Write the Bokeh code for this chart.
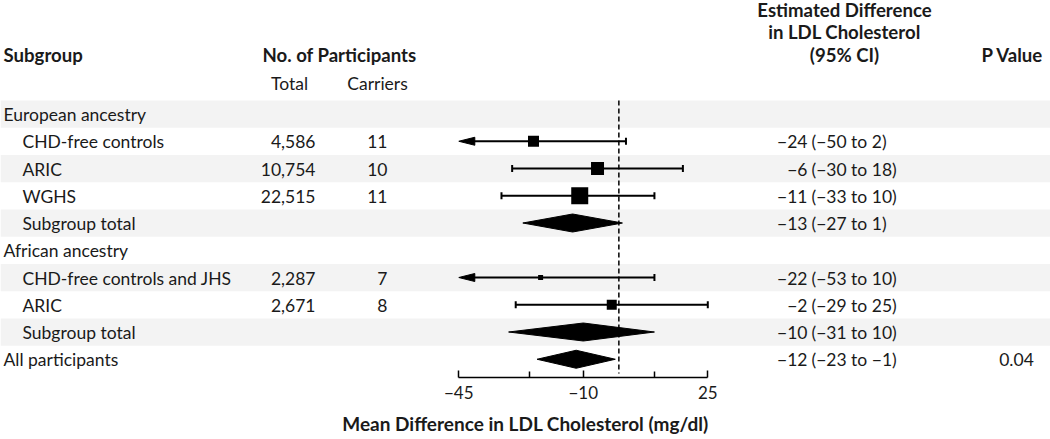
from bokeh.plotting import figure
from bokeh.models import Range1d, LinearAxis, FixedTicker
from bokeh.core.properties import value
from bokeh.embed import file_html
from bokeh.resources import INLINE

# ---------------- data ----------------
row_labels = ["European ancestry", "CHD-free controls", "ARIC", "WGHS", "Subgroup total",
              "African ancestry", "CHD-free controls and JHS", "ARIC", "Subgroup total",
              "All participants"]
row_indent = [0, 1, 1, 1, 1, 0, 1, 1, 1, 0]

study_rows = [1, 2, 3, 6, 7]
study_total = [4586, 10754, 22515, 2287, 2671]
study_carriers = [11, 10, 11, 7, 8]
study_est = [-24, -6, -11, -22, -2]
study_lo = [-50, -30, -33, -53, -29]
study_hi = [2, 18, 10, 10, 25]

pooled_rows = [4, 8, 9]
pooled_est = [-13, -10, -12]
pooled_lo = [-27, -31, -23]
pooled_hi = [1, 10, -1]

p_value_row = 9
p_value_text = "0.04"

axis_min, axis_max = -45, 25
axis_ticks = [-45, -10, 25]
axis_minor = [-25, 10]
axis_tick_labels = ["\u221245", "\u221210", "25"]
axis_title = "Mean Difference in LDL Cholesterol (mg/dl)"
null_value = 0

# ---------------- style ----------------
square_px = [11, 13, 17, 5, 10]
FONT = "Lato"
FS = "17.5px"
FSB = "18.6px"
TXT = "#1a1a1a"
BAND = "#f3f3f3"

# geometry helpers (reference pixel -> data units)
PX_PER_UNIT = 3.557
X_REF0 = 458.3      # pixel of axis_min
ROW_Y0 = 113.5      # pixel of row 0 centre
ROW_H = 27.25
AXIS_Y = 373
FRAME_BOTTOM = 377


def xd(px):
    return axis_min + (px - X_REF0) / PX_PER_UNIT


def yd(py):
    return (py - ROW_Y0) / ROW_H


def fmt(v):
    return str(v).replace("-", "\u2212")


W, H = 1050, 439
p = figure(width=W, height=H, output_backend="svg", toolbar_location=None,
           title_location=None,
           x_axis_type=None, y_axis_type=None,
           x_range=Range1d(xd(0), xd(W)), y_range=Range1d(yd(FRAME_BOTTOM), yd(0)),
           min_border_left=0, min_border_right=0, min_border_top=0,
           min_border_bottom=H - FRAME_BOTTOM)
p.outline_line_color = None
p.background_fill_color = "white"
p.border_fill_color = "white"

# alternating bands
band_rows = [i for i in range(len(row_labels)) if i % 2 == 0]
p.hbar(y=band_rows, height=1.0, left=xd(0), right=xd(W), color=BAND, line_color=None)

# null line
p.segment(x0=[null_value], x1=[null_value], y0=[-0.5], y1=[yd(AXIS_Y)],
          line_color="black", line_width=1.5, line_dash="5 3")

# study CIs
cap = 3.5 / ROW_H
seg_x0, seg_x1, seg_y = [], [], []
cap_x, cap_y0, cap_y1 = [], [], []
arr_xs, arr_ys = [], []
ah_len = 16 / PX_PER_UNIT
ah_w = 4 / ROW_H
for r, lo, hi in zip(study_rows, study_lo, study_hi):
    if lo < axis_min:
        arr_xs.append([axis_min, axis_min + ah_len, axis_min + ah_len])
        arr_ys.append([r, r - ah_w, r + ah_w])
        seg_x0.append(axis_min + ah_len * 0.8)
    else:
        seg_x0.append(lo)
        cap_x.append(lo); cap_y0.append(r - cap); cap_y1.append(r + cap)
    if hi > axis_max:
        arr_xs.append([axis_max, axis_max - ah_len, axis_max - ah_len])
        arr_ys.append([r, r - ah_w, r + ah_w])
        seg_x1.append(axis_max - ah_len * 0.8)
    else:
        seg_x1.append(hi)
        cap_x.append(hi); cap_y0.append(r - cap); cap_y1.append(r + cap)
    seg_y.append(r)

p.segment(x0=seg_x0, x1=seg_x1, y0=seg_y, y1=seg_y, line_color="black", line_width=2)
p.segment(x0=cap_x, x1=cap_x, y0=cap_y0, y1=cap_y1, line_color="black", line_width=2)
if arr_xs:
    p.patches(xs=arr_xs, ys=arr_ys, fill_color="black", line_color="black", line_width=1)
p.scatter(x=study_est, y=study_rows, size=square_px, marker="square",
          fill_color="black", line_color=None)

# pooled diamonds
dh = 9 / ROW_H
dx, dy = [], []
for r, e, lo, hi in zip(pooled_rows, pooled_est, pooled_lo, pooled_hi):
    dx.append([lo, e, hi, e])
    dy.append([r, r - dh, r, r + dh])
p.patches(xs=dx, ys=dy, fill_color="black", line_color="black", line_width=1)

# ---------------- texts ----------------
mid = 0.5 / ROW_H   # text middle offset below row centre


def txt(x, y, t, align="left", bold=False):
    p.text(x=x, y=y, text=t, text_font=value(FONT), text_font_size=FSB if bold else FS,
           text_font_style="bold" if bold else "normal", text_color=TXT,
           text_align=align, text_baseline="middle")


rows = list(range(len(row_labels)))
txt([xd(3) if ind == 0 else xd(22) for ind in row_indent], [r + mid for r in rows], row_labels)
txt([xd(315)] * len(study_rows), [r + mid for r in study_rows],
    [f"{n:,}" for n in study_total], align="right")
txt([xd(387)] * len(study_rows), [r + mid for r in study_rows],
    [str(n) for n in study_carriers], align="right")

ci_rows = study_rows + pooled_rows
ci_est = study_est + pooled_est
ci_lo = study_lo + pooled_lo
ci_hi = study_hi + pooled_hi
txt([xd(807)] * len(ci_rows), [r + mid for r in ci_rows], [fmt(e) for e in ci_est], align="right")
txt([xd(811)] * len(ci_rows), [r + mid for r in ci_rows],
    [f"({fmt(lo)} to {fmt(hi)})" for lo, hi in zip(ci_lo, ci_hi)])
txt([xd(1016)], [p_value_row + mid], [p_value_text], align="center")

# headers
txt([xd(3)], [yd(54)], ["Subgroup"], bold=True)
txt([xd(339)], [yd(54)], ["No. of Participants"], align="center", bold=True)
txt([xd(289), xd(377)], [yd(83), yd(83)], ["Total", "Carriers"], align="center")
txt([xd(844)] * 3, [yd(9), yd(31.5), yd(54.5)],
    ["Estimated Difference", "in LDL Cholesterol", "(95% CI)"], align="center", bold=True)
txt([xd(1012)], [yd(54.5)], ["P Value"], align="center", bold=True)

# ---------------- axis ----------------
ax = LinearAxis(bounds=(axis_min, axis_max),
                ticker=FixedTicker(ticks=axis_ticks, minor_ticks=axis_minor))
ax.major_label_overrides = {t: l for t, l in zip(axis_ticks, axis_tick_labels)}
ax.axis_line_color = "black"
ax.axis_line_width = 1.5
ax.major_tick_line_color = "black"
ax.major_tick_line_width = 1.5
ax.minor_tick_line_color = "black"
ax.minor_tick_line_width = 1.5
ax.major_tick_in = 7
ax.major_tick_out = 0
ax.minor_tick_in = 6
ax.minor_tick_out = 0
ax.major_label_standoff = 8
ax.major_label_text_font = FONT
ax.major_label_text_font_size = "17px"
ax.major_label_text_color = TXT
ax.axis_label = axis_title
ax.axis_label_text_font = FONT
ax.axis_label_text_font_size = "19px"
ax.axis_label_text_font_style = "bold"
ax.axis_label_text_color = TXT
ax.axis_label_standoff = 10
p.add_layout(ax, "below")

open("out.html", "w").write(file_html(p, INLINE))
